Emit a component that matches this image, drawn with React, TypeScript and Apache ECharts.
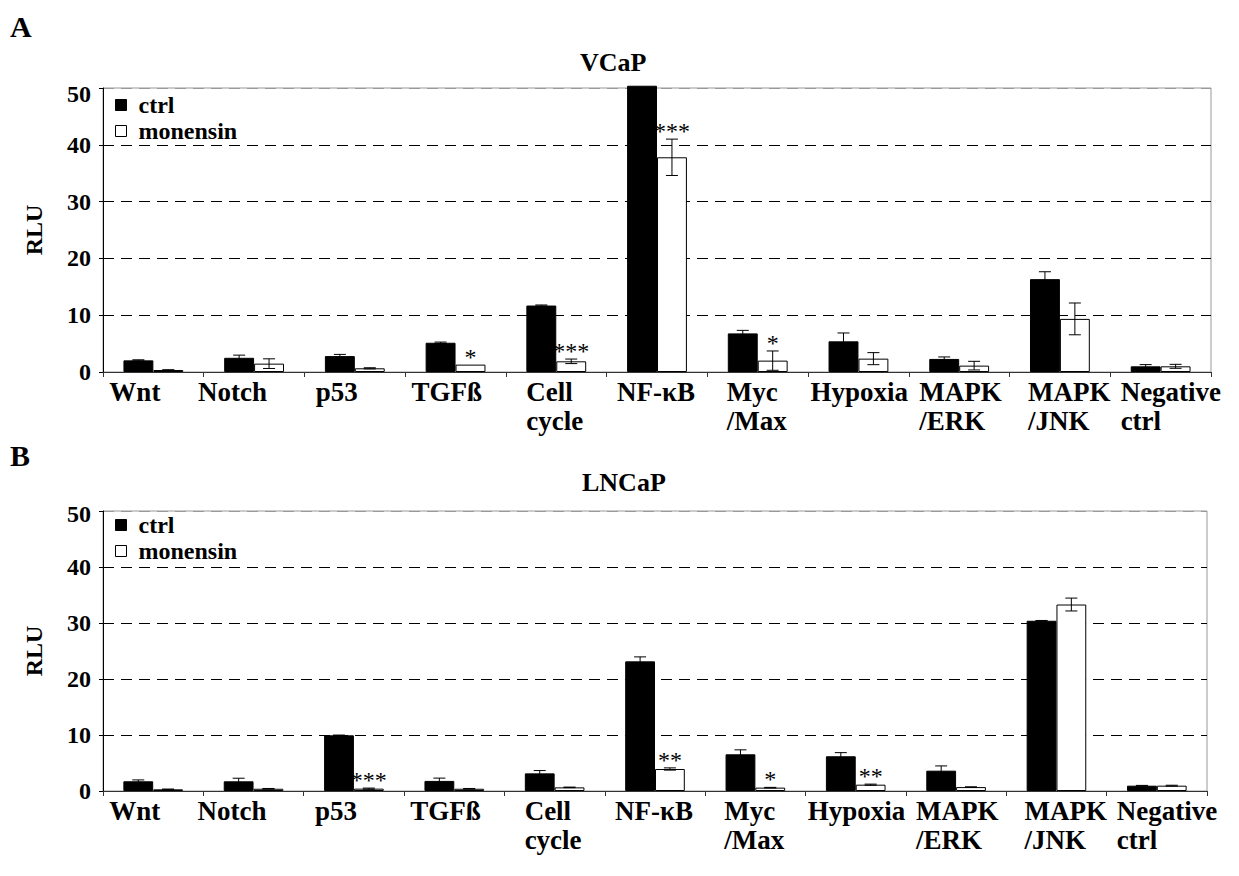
import React, { useEffect, useRef } from "react";
import * as echarts from "echarts";

const categories = ["Wnt", "Notch", "p53", "TGFß", "Cell\ncycle", "NF-κB", "Myc\n/Max", "Hypoxia", "MAPK\n/ERK", "MAPK\n/JNK", "Negative\nctrl"];
const seriesNames = ["ctrl", "monensin"];
const yMin = 0;
const yMax = 50;
const yStep = 10;

// Panel A: VCaP
const vcapCtrl = [2.05, 2.5, 2.8, 5.15, 11.7, 50.4, 6.8, 5.4, 2.3, 16.35, 1.0];
const vcapCtrlErr = [0.1, 0.47, 0.3, 0.12, 0.1, 0, 0.53, 1.47, 0.35, 1.3, 0.3];
const vcapMon = [0.35, 1.47, 0.65, 1.3, 1.88, 37.8, 2.0, 2.35, 1.12, 9.35, 1.0];
const vcapMonErr = [0.05, 0.85, 0.1, 0, 0.4, 3.2, 1.7, 1.06, 0.76, 2.8, 0.35];
const vcapSig = ["", "", "", "*", "***", "***", "*", "", "", "", ""];

// Panel B: LNCaP
const lncapCtrl = [1.73, 1.73, 9.94, 1.8, 3.15, 23.15, 6.55, 6.2, 3.63, 30.4, 0.95];
const lncapCtrlErr = [0.25, 0.55, 0.05, 0.5, 0.5, 0.8, 0.8, 0.65, 0.85, 0.05, 0.05];
const lncapMon = [0.3, 0.4, 0.42, 0.4, 0.65, 3.93, 0.6, 1.13, 0.7, 33.3, 0.95];
const lncapMonErr = [0.05, 0.05, 0.1, 0.05, 0.05, 0.2, 0.05, 0.1, 0.05, 1.15, 0.08];
const lncapSig = ["", "", "***", "", "", "**", "*", "**", "", "", ""];

// styling (not data)
const FONT = "Liberation Serif";
const BAR_FRAC = 0.297;
const labelDx = [-44, -56, -39, -44, -30, -40, -31, -48, -40, -32, -40];

const panels = [
  { letter: "A", title: "VCaP", gridTop: 88, gridHeight: 284, right: 28, legendTop: 93, letterTop: 11, titleTop: 49, titleLeft: 580,
    ctrl: vcapCtrl, ctrlErr: vcapCtrlErr, mon: vcapMon, monErr: vcapMonErr, sig: vcapSig, topPad: 12 },
  { letter: "B", title: "LNCaP", gridTop: 511, gridHeight: 280, right: 32, legendTop: 513, letterTop: 440, titleTop: 469, titleLeft: 582,
    ctrl: lncapCtrl, ctrlErr: lncapCtrlErr, mon: lncapMon, monErr: lncapMonErr, sig: lncapSig, topPad: 6 },
];

function errRender(side: number, sig: string[] | null) {
  return (params: any, api: any) => {
    const i = api.value(0);
    const v = api.value(1);
    const e = api.value(2);
    const band = api.size([1, 0])[0];
    const dx = (side * band * BAR_FRAC) / 2;
    const pTop = api.coord([i, v + e]);
    const pBot = api.coord([i, Math.max(0, v - e)]);
    const x = pTop[0] + dx;
    const st = { stroke: "#000", lineWidth: 1 };
    const children: any[] = [];
    if (e > 0) {
      children.push({ type: "line", shape: { x1: x, y1: pTop[1], x2: x, y2: pBot[1] }, style: st });
      children.push({ type: "line", shape: { x1: x - 6, y1: pTop[1], x2: x + 6, y2: pTop[1] }, style: st });
      children.push({ type: "line", shape: { x1: x - 6, y1: pBot[1], x2: x + 6, y2: pBot[1] }, style: st });
    }
    const s = sig ? sig[params.dataIndex] : "";
    if (s) {
      children.push({
        type: "text",
        x,
        y: pTop[1] - 8,
        style: { text: s, fontFamily: FONT, fontSize: 24, fill: "#000", align: "center", verticalAlign: "middle" },
      });
    }
    return { type: "group", children };
  };
}

function labelRender(params: any, api: any) {
  const i = api.value(0);
  const p = api.coord([i, 0]);
  return {
    type: "text",
    x: p[0] + labelDx[params.dataIndex],
    y: p[1] + 5,
    style: {
      text: categories[params.dataIndex],
      fontFamily: FONT,
      fontWeight: "bold",
      fontSize: 27,
      fill: "#000",
      align: "left",
      verticalAlign: "top",
      lineHeight: 29,
    },
  };
}

export default function App() {
  const ref = useRef<HTMLDivElement>(null);
  useEffect(() => {
    if (!ref.current) return;
    const chart = echarts.init(ref.current, null, { renderer: "svg" });
    const titles: any[] = [];
    const grids: any[] = [];
    const xAxes: any[] = [];
    const yAxes: any[] = [];
    const legends: any[] = [];
    const series: any[] = [];
    const txt = { fontFamily: FONT, fontWeight: "bold", color: "#000" };

    panels.forEach((p, k) => {
      titles.push({ text: p.letter, left: 10, top: p.letterTop, padding: 0, textStyle: { ...txt, fontSize: 30 } });
      titles.push({ text: p.title, left: p.titleLeft, top: p.titleTop, padding: 0, textStyle: { ...txt, fontSize: 26 } });
      grids.push({ left: 103, right: p.right, top: p.gridTop, height: p.gridHeight, show: true, borderColor: "#999", borderWidth: 1 });
      xAxes.push({
        type: "category",
        gridIndex: k,
        data: categories,
        boundaryGap: true,
        axisLine: { show: true, lineStyle: { color: "#333", width: 1 } },
        axisTick: { show: true, alignWithLabel: false, interval: 0, length: 5, lineStyle: { color: "#333" } },
        axisLabel: { show: false },
        splitLine: { show: false },
      });
      yAxes.push({
        type: "value",
        gridIndex: k,
        min: yMin,
        max: yMax,
        interval: yStep,
        name: "RLU",
        nameLocation: "middle",
        nameRotate: 90,
        nameGap: 57,
        nameTextStyle: { ...txt, fontSize: 24 },
        axisLine: { show: true, lineStyle: { color: "#000", width: 1 } },
        axisTick: { show: true, length: 4, lineStyle: { color: "#000" } },
        axisLabel: {
          ...txt,
          fontSize: 24,
          margin: 12,
          formatter: (v: number) => (v === yMax ? `{t|${v}}` : String(v)),
          rich: { t: { fontFamily: FONT, fontWeight: "bold", fontSize: 24, color: "#000", padding: [p.topPad, 0, 0, 0] } },
        },
        splitLine: {
          show: true,
          lineStyle: { color: ["#000", "#000", "#000", "#000", "#000", "#999"], type: [11, 7], width: 1 },
        },
      });
      legends.push({
        orient: "vertical",
        left: 115,
        top: p.legendTop,
        padding: 0,
        itemWidth: 11,
        itemHeight: 11,
        itemGap: 2,
        icon: "rect",
        selectedMode: false,
        textStyle: { ...txt, fontSize: 24, lineHeight: 24, padding: [0, 0, 0, 7] },
        data: [
          { name: seriesNames[0], itemStyle: { color: "#000", borderColor: "#000", borderWidth: 1 } },
          { name: seriesNames[1], itemStyle: { color: "#fff", borderColor: "#000", borderWidth: 1 } },
        ],
      });
      series.push({
        name: seriesNames[0],
        type: "bar",
        xAxisIndex: k,
        yAxisIndex: k,
        data: p.ctrl,
        barWidth: `${BAR_FRAC * 100}%`,
        barGap: "0%",
        clip: false,
        silent: true,
        itemStyle: { color: "#000", borderColor: "#000", borderWidth: 1 },
      });
      series.push({
        name: seriesNames[1],
        type: "bar",
        xAxisIndex: k,
        yAxisIndex: k,
        data: p.mon,
        barWidth: `${BAR_FRAC * 100}%`,
        barGap: "0%",
        clip: false,
        silent: true,
        itemStyle: { color: "#fff", borderColor: "#000", borderWidth: 1 },
      });
      series.push({
        type: "custom",
        xAxisIndex: k,
        yAxisIndex: k,
        z: 5,
        silent: true,
        clip: false,
        data: p.ctrl.map((v, i) => [i, v, p.ctrlErr[i]]),
        encode: { x: 0, y: 1 },
        renderItem: errRender(-1, null),
      });
      series.push({
        type: "custom",
        xAxisIndex: k,
        yAxisIndex: k,
        z: 5,
        silent: true,
        clip: false,
        data: p.mon.map((v, i) => [i, v, p.monErr[i]]),
        encode: { x: 0, y: 1 },
        renderItem: errRender(1, p.sig),
      });
      series.push({
        type: "custom",
        xAxisIndex: k,
        yAxisIndex: k,
        z: 5,
        silent: true,
        clip: false,
        data: categories.map((_, i) => [i, 0]),
        encode: { x: 0, y: 1 },
        renderItem: labelRender,
      });
    });

    chart.setOption({
      animation: false,
      backgroundColor: "#fff",
      title: titles,
      grid: grids,
      xAxis: xAxes,
      yAxis: yAxes,
      legend: legends,
      series,
    });
    return () => chart.dispose();
  }, []);
  return <div ref={ref} style={{ position: "absolute", left: 0, top: 0, width: 1239, height: 876 }} />;
}
